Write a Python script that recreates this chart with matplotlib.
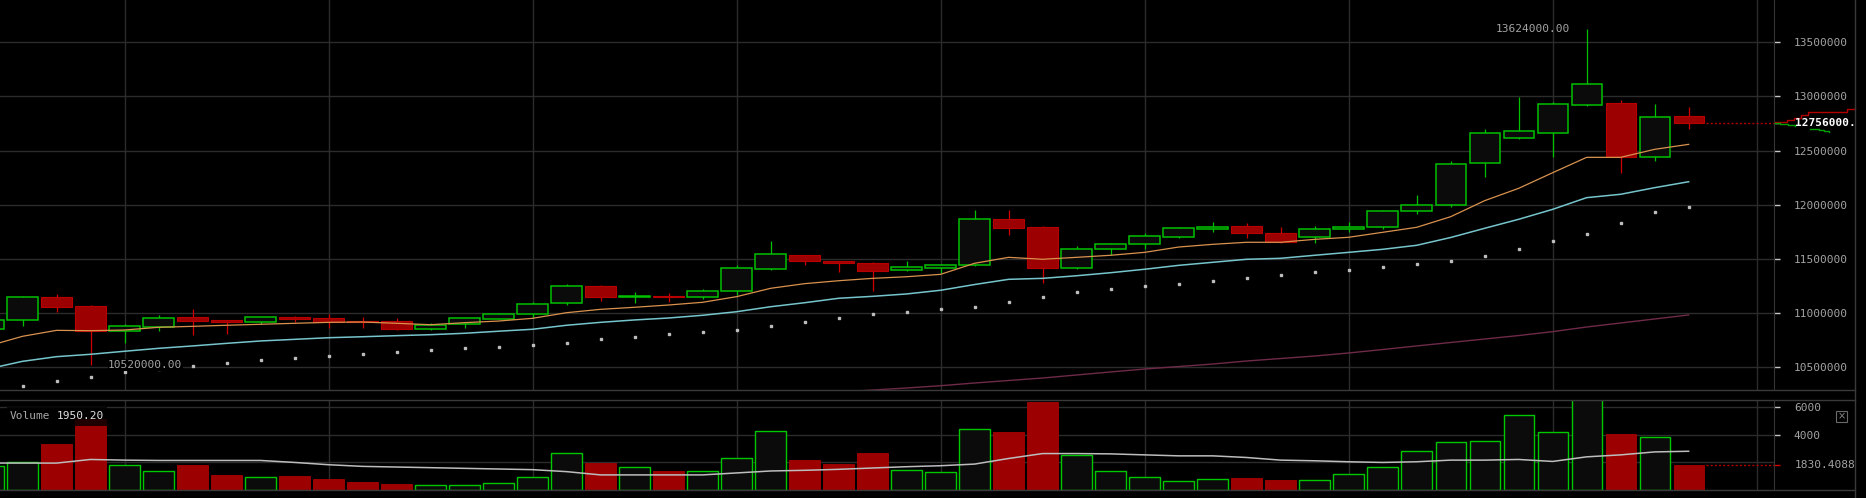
import matplotlib
matplotlib.use("Agg")
import matplotlib.pyplot as plt
from matplotlib.lines import Line2D
from matplotlib.patches import Rectangle
import numpy as np

# candles (51 periods, the first one is cut by the left border)
abertura = [10851000, 10934000, 11146000, 11063000, 10832000, 10875000, 10962000, 10937000, 10921000, 10964000,
            10955000, 10927000, 10927000, 10851000, 10897000, 10949000, 10989000, 11091000, 11248000, 11152000,
            11160000, 11152000, 11202000, 11410000, 11534000, 11481000, 11463000, 11401000, 11419000, 11442000,
            11866000, 11792000, 11414000, 11589000, 11635000, 11700000, 11779000, 11802000, 11737000, 11700000,
            11774000, 11792000, 11940000, 11995000, 12383000, 12614000, 12666000, 12924000, 12937000, 12438000,
            12817000]
maxima = [10945000, 11158000, 11177000, 11075000, 10900000, 10983000, 11038000, 10940000, 10965000, 10976000,
          10992000, 10964000, 10955000, 10906000, 10956000, 11001000, 11100000, 11269000, 11260000, 11195000,
          11183000, 11223000, 11442000, 11666000, 11540000, 11485000, 11475000, 11481000, 11454000, 11952000,
          11952000, 11800000, 11620000, 11647000, 11740000, 11795000, 11841000, 11832000, 11795000, 11804000,
          11841000, 11952000, 12090000, 12402000, 12700000, 12995000, 12946000, 13624000, 12967000, 12930000,
          12903000]
minima = [10830000, 10884000, 11013000, 10520000, 10727000, 10838000, 10798000, 10810000, 10900000, 10918000,
          10863000, 10866000, 10845000, 10848000, 10866000, 10945000, 10952000, 11078000, 11115000, 11096000,
          11106000, 11133000, 11165000, 11398000, 11444000, 11382000, 11207000, 11389000, 11370000, 11438000,
          11724000, 11275000, 11410000, 11537000, 11595000, 11698000, 11752000, 11696000, 11650000, 11650000,
          11752000, 11777000, 11915000, 11982000, 12259000, 12610000, 12444000, 12912000, 12296000, 12404000,
          12702000]
fechamento = [10934000, 11146000, 11059000, 10835000, 10878000, 10952000, 10930000, 10921000, 10962000, 10946000,
              10918000, 10915000, 10851000, 10888000, 10952000, 10989000, 11082000, 11248000, 11152000, 11158000,
              11153000, 11202000, 11414000, 11543000, 11478000, 11460000, 11392000, 11423000, 11442000, 11866000,
              11789000, 11414000, 11589000, 11635000, 11709000, 11783000, 11792000, 11737000, 11654000, 11774000,
              11792000, 11940000, 11995000, 12374000, 12660000, 12678000, 12928000, 13112000, 12438000, 12808000,
              12756000]
volume = [1736, 2000, 3307, 5164, 1807, 1379, 1807, 1093, 926, 1021,
          807, 593, 426, 355, 355, 497, 926, 2664, 1950.20, 1640,
          1378, 1355, 2283, 4283, 2164, 1855, 2664, 1426, 1283, 4426,
          4212, 6378, 2569, 1355, 926, 640, 783, 855, 712, 712,
          1140, 1640, 2855, 3497, 3569, 5426, 4212, 6700, 4021, 3855,
          1830.4088]

# moving averages
media_volume = [1950, 1950, 1950, 2212, 2164, 2140, 2140, 2140, 2140, 1997,
                1831, 1712, 1664, 1617, 1569, 1521, 1474, 1331, 1093, 1093,
                1093, 1093, 1236, 1378, 1426, 1497, 1593, 1688, 1759, 1878,
                2283, 2640, 2640, 2617, 2545, 2474, 2474, 2355, 2164, 2117,
                2045, 1997, 2045, 2164, 2164, 2212, 2069, 2402, 2545, 2759,
                2807]
media_laranja = [10697000, 10786000, 10841000, 10838000, 10844000, 10869000, 10878000, 10888000, 10897000, 10906000,
                 10915000, 10918000, 10906000, 10893000, 10912000, 10927000, 10952000, 11004000, 11035000, 11054000,
                 11075000, 11100000, 11152000, 11229000, 11272000, 11299000, 11321000, 11336000, 11358000, 11460000,
                 11515000, 11497000, 11515000, 11534000, 11561000, 11610000, 11635000, 11654000, 11654000, 11681000,
                 11700000, 11746000, 11792000, 11890000, 12038000, 12152000, 12296000, 12438000, 12438000, 12512000,
                 12558000]
media_ciano = [10486000, 10555000, 10598000, 10620000, 10648000, 10675000, 10697000, 10721000, 10743000, 10758000,
               10773000, 10782000, 10792000, 10801000, 10814000, 10833000, 10851000, 10888000, 10915000, 10937000,
               10955000, 10980000, 11013000, 11059000, 11096000, 11137000, 11155000, 11177000, 11211000, 11264000,
               11312000, 11321000, 11345000, 11373000, 11405000, 11441000, 11469000, 11497000, 11506000, 11534000,
               11561000, 11589000, 11626000, 11698000, 11783000, 11866000, 11958000, 12066000, 12097000, 12158000,
               12213000]
media_pontos = [10300000, 10330000, 10376000, 10413000, 10459000, 10484000, 10515000, 10542000, 10570000, 10589000,
                10607000, 10625000, 10644000, 10662000, 10681000, 10690000, 10706000, 10724000, 10757000, 10782000,
                10810000, 10829000, 10847000, 10884000, 10921000, 10958000, 10995000, 11013000, 11041000, 11059000,
                11105000, 11152000, 11195000, 11223000, 11253000, 11272000, 11299000, 11327000, 11355000, 11382000,
                11401000, 11429000, 11456000, 11484000, 11530000, 11595000, 11669000, 11733000, 11835000, 11931000,
                11982000]
inicio_roxa = 24  # long average only enters the view near the end
media_roxa = [10244000, 10272000, 10290000, 10309000, 10330000, 10355000, 10378000, 10401000, 10429000, 10457000,
              10484000, 10507000, 10530000, 10558000, 10581000, 10604000, 10632000, 10664000, 10697000, 10729000,
              10761000, 10793000, 10829000, 10872000, 10909000, 10946000, 10983000]

# order book depth drawn right of the price axis (x in candle units)
ask_x = [52.54, 52.9, 53.1, 53.3, 53.5, 54.1, 54.65, 54.9]
ask_preco = [12767000, 12780000, 12800000, 12829000, 12854000, 12860000, 12882000, 12891000]
bid_x = [52.54, 52.7, 52.93, 53.13]
bid_preco = [12756000, 12750000, 12733000, 12727000]
bid2_x = [53.57, 53.82, 53.97, 54.12]
bid2_preco = [12697000, 12694000, 12685000, 12668000]

ticks_preco = [10500000, 11000000, 11500000, 12000000, 12500000, 13000000, 13500000]
ticks_volume = [4000, 6000]
ultimo_preco = 12756000
maior_alta = 13624000
menor_baixa = 10520000

W, H = 1866, 498
plt.rcParams['font.family'] = 'DejaVu Sans Mono'
fig = plt.figure(figsize=(W / 100, H / 100), dpi=100, facecolor='black')


def eixo_px(x0, y0, x1, y1):
    return fig.add_axes([x0 / W, 1 - y1 / H, (x1 - x0) / W, (y1 - y0) / H])


ax = eixo_px(0, 0, 1774, 390)
axv = eixo_px(0, 400, 1774, 490)

o = np.array(abertura, float)
h = np.array(maxima, float)
l = np.array(minima, float)
c = np.array(fechamento, float)
idx = np.arange(len(o))
alta = c >= o

verde = '#00c000'
vermelho = '#d00000'
corpo_vermelho = '#9c0000'
grade = '#2c2c2c'
texto = '#a3a3a3'

for a in (ax, axv):
    a.set_facecolor('black')
    a.set_xlim(0.338, 52.51)
    a.set_xticks(np.arange(4, 53, 6))
    a.grid(True, color=grade, lw=1, zorder=0)
    a.tick_params(axis='x', length=0, labelbottom=False)
    for s in ('left', 'top', 'bottom'):
        a.spines[s].set_visible(False)
    a.spines['right'].set_color('#353535')
    a.yaxis.tick_right()
    a.tick_params(axis='y', direction='out', length=4.3, width=1, color='#c8c8c8',
                  pad=10, labelsize=8, labelcolor=texto)

# price panel
ax.set_ylim(10290381, 13890471)
ax.set_yticks(ticks_preco)
ax.set_yticklabels([str(t) for t in ticks_preco])

ax.vlines(idx[alta], l[alta], h[alta], color=verde, lw=0.9, zorder=2)
ax.vlines(idx[~alta], l[~alta], h[~alta], color=vermelho, lw=0.9, zorder=2)
ax.bar(idx[alta], np.maximum(c - o, 2000)[alta], bottom=o[alta], width=0.89,
       facecolor='#0b0b0b', edgecolor=verde, linewidth=1.1, zorder=3)
ax.bar(idx[~alta], np.maximum(o - c, 2000)[~alta], bottom=c[~alta], width=0.89,
       facecolor=corpo_vermelho, edgecolor='#b80000', linewidth=0.8, zorder=3)

ax.plot(idx, media_laranja, color='#d9924e', lw=0.9, zorder=4)
ax.plot(idx, media_ciano, color='#76c5cc', lw=1.1, zorder=4)
ax.plot(idx, media_pontos, ls='none', marker='s', ms=1.5, color='#bdbdbd', zorder=4)
ax.plot(idx[inicio_roxa:], media_roxa, color='#6e2a48', lw=1.0, zorder=4)

ax.text(47 - 0.48, maior_alta, '%.2f' % maior_alta, ha='right', va='center',
        fontsize=8, color=texto, zorder=6)
ax.text(3.52, menor_baixa, '%.2f' % menor_baixa, ha='left', va='center',
        fontsize=8, color=texto, zorder=6,
        bbox=dict(facecolor='black', edgecolor='none', pad=0.5))

# last price marker
ax.plot([len(o) - 0.5, 52.51], [ultimo_preco, ultimo_preco], color='#b00000',
        lw=1, ls=(0, (1.5, 1.5)), zorder=4)
ax.set_yticks([ultimo_preco], minor=True)
ax.tick_params(axis='y', which='minor', direction='out', length=4.3, width=1,
               color='white', labelright=False)
ax.annotate('%d.' % ultimo_preco, xy=(1, ultimo_preco),
            xycoords=ax.get_yaxis_transform(), xytext=(21, 0),
            textcoords='offset pixels', ha='left', va='center', fontsize=8,
            fontweight='bold', color='white', annotation_clip=False, zorder=7)

ax.step(ask_x, ask_preco, where='post', color='#b00000', lw=1, clip_on=False, zorder=5)
ax.step(bid_x, bid_preco, where='post', color='#00a000', lw=1, clip_on=False, zorder=5)
ax.step(bid2_x, bid2_preco, where='post', color='#00a000', lw=1, clip_on=False, zorder=5)

# volume panel
v = np.array(volume, float)
axv.set_ylim(0, 6520)
axv.set_yticks(ticks_volume)
axv.set_yticklabels([str(t) for t in ticks_volume])
axv.axhline(2000, color=grade, lw=1, zorder=0)
axv.bar(idx[alta], v[alta], width=0.89, facecolor='#0b0b0b', edgecolor='#00c800',
        linewidth=1.0, zorder=3)
axv.bar(idx[~alta], v[~alta], width=0.89, facecolor=corpo_vermelho, edgecolor='#a80000',
        linewidth=0.6, zorder=3)
axv.plot(idx, media_volume, color='#bdbdbd', lw=1.1, zorder=4)

ultimo_vol = volume[-1]
axv.plot([len(o) - 0.5, 52.51], [ultimo_vol, ultimo_vol], color='#b00000',
         lw=1, ls=(0, (1.5, 1.5)), zorder=4)
axv.set_yticks([ultimo_vol], minor=True)
axv.tick_params(axis='y', which='minor', direction='out', length=4.3, width=1,
                color='#d00000', labelright=False)
axv.annotate('%.4f' % ultimo_vol, xy=(1, ultimo_vol), xycoords=axv.get_yaxis_transform(),
             xytext=(21, 0), textcoords='offset pixels', ha='left', va='center',
             fontsize=8, color=texto, annotation_clip=False)

# volume legend box top left
fig.add_artist(Rectangle((6.7 / W, 1 - 425.7 / H), 100 / W, 19 / H, transform=fig.transFigure,
                         facecolor='black', edgecolor='none', alpha=0.8, zorder=10))
fig.text(10 / W, 1 - 416 / H, 'Volume', fontsize=8, color='#a8a8a8', va='center', zorder=11)
fig.text(56.5 / W, 1 - 416 / H, '%.2f' % volume[18], fontsize=8, color='#e0e0e0',
         va='center', zorder=11)

# close button of the volume pane
fig.add_artist(Rectangle((1836 / W, 1 - 421.7 / H), 11 / W, 11 / H, transform=fig.transFigure,
                         facecolor='none', edgecolor='#6a6a6a', lw=0.8))
fig.text(1841.5 / W, 1 - 416.5 / H, '×', fontsize=7, color='#8a8a8a', ha='center', va='center',
         family='DejaVu Sans')

# pane borders
borda = '#3a3a3a'
for y in (390, 400, 490):
    fig.add_artist(Line2D([0, 1855 / W], [1 - y / H, 1 - y / H], transform=fig.transFigure,
                          color=borda, lw=1))
fig.add_artist(Line2D([1855 / W, 1855 / W], [0, 1], transform=fig.transFigure, color=borda, lw=1))

fig.savefig('out.png', dpi=100, facecolor='black')
